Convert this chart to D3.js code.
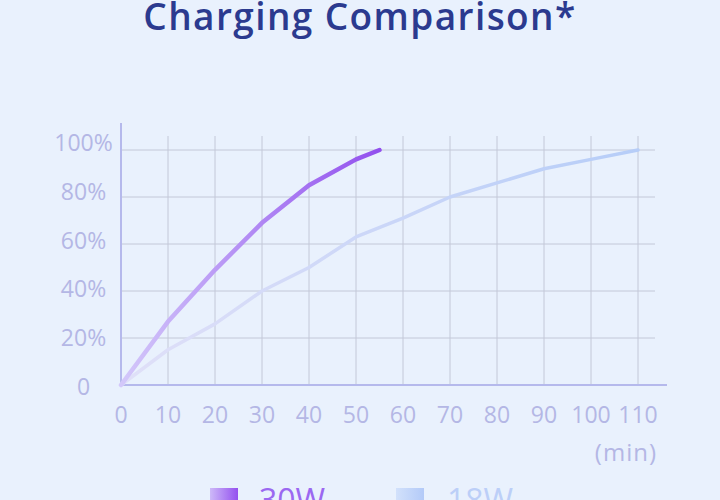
<!DOCTYPE html>
<html><head><meta charset="utf-8">
<script src="https://cdn.jsdelivr.net/npm/d3@7"></script>
<style>
html,body{margin:0;padding:0;background:#e9f1fd;}
svg{display:block;font-family:"Open Sans",sans-serif;}
</style></head><body>
<svg id="c" width="720" height="500"></svg>
<script>
const title = "Charging Comparison*";
const minutes30 = [0,10,20,30,40,50,55];
const values30 = [0,27,49,69,85,96,100];
const minutes18 = [0,10,20,30,40,50,60,70,80,90,100,110];
const values18 = [0,15,26,40,50,63,71,80,86,92,96,100];
const xTicks = [0,10,20,30,40,50,60,70,80,90,100,110];
const yTicks = [0,20,40,60,80,100];
const yTickLabels = ["0","20%","40%","60%","80%","100%"];
const seriesNames = ["30W","18W"];
const unitLabel = "(min)";

const svg = d3.select("#c");
const x = d3.scaleLinear().domain([0,110]).range([121,638]);
const y = d3.scaleLinear().domain([0,100]).range([385,150]);
const yLab = d3.scaleLinear().domain([0,100]).range([395,151]);

const defs = svg.append("defs");
function grad(id, c0, c1, x0, x1, units){
  const g = defs.append("linearGradient").attr("id",id);
  if(units){ g.attr("gradientUnits","userSpaceOnUse").attr("x1",x0).attr("x2",x1).attr("y1",0).attr("y2",0); }
  g.append("stop").attr("offset","0%").attr("stop-color",c0);
  g.append("stop").attr("offset","100%").attr("stop-color",c1);
}
grad("g30","#d3c8fa","#9250ee",x(0),x(55),true);
grad("g18","#e0e0f8","#b6cdf8",x(0),x(110),true);
grad("s30","#cdb9f8","#9450ef");
grad("s18","#d2e1fb","#b3caf8");

// title
svg.append("text").attr("x",360).attr("y",29.5).attr("text-anchor","middle")
  .attr("font-size",37).attr("font-weight",600).attr("letter-spacing",1.4)
  .attr("fill","#2b3a8f").text(title);

// grid
svg.append("g").selectAll("line").data(yTicks.filter(d=>d>0)).join("line")
  .attr("x1",x(0)).attr("x2",655).attr("y1",d=>y(d)).attr("y2",d=>y(d))
  .attr("stroke","#c3c8d8").attr("stroke-width",1);
svg.append("g").selectAll("line").data(xTicks.filter(d=>d>0)).join("line")
  .attr("x1",d=>x(d)).attr("x2",d=>x(d)).attr("y1",136).attr("y2",y(0))
  .attr("stroke","#c3c8d8").attr("stroke-width",1);

// axes
svg.append("line").attr("x1",x(0)).attr("x2",x(0)).attr("y1",123).attr("y2",y(0)+1)
  .attr("stroke","#b5b9ec").attr("stroke-width",2);
svg.append("line").attr("x1",x(0)-1).attr("x2",667).attr("y1",y(0)).attr("y2",y(0))
  .attr("stroke","#b5b9ec").attr("stroke-width",2);

const labColor = "#b4b7e5";
svg.append("g").selectAll("text").data(yTicks).join("text")
  .attr("x",83.5).attr("y",d=>yLab(d)).attr("text-anchor","middle")
  .attr("font-size",23).attr("fill",labColor).text((d,i)=>yTickLabels[i]);
svg.append("g").selectAll("text").data(xTicks).join("text")
  .attr("x",d=>x(d)).attr("y",423).attr("text-anchor","middle")
  .attr("font-size",23).attr("fill",labColor).text(d=>d);
svg.append("text").attr("x",657).attr("y",461).attr("text-anchor","end")
  .attr("font-size",24).attr("letter-spacing",1).attr("fill",labColor).text(unitLabel);

// lines
const line = d3.line().x(d=>x(d[0])).y(d=>y(d[1]));
svg.append("path").datum(minutes18.map((m,i)=>[m,values18[i]]))
  .attr("d",line).attr("fill","none").attr("stroke","url(#g18)")
  .attr("stroke-width",3.5).attr("stroke-linejoin","round").attr("stroke-linecap","round");
svg.append("path").datum(minutes30.map((m,i)=>[m,values30[i]]))
  .attr("d",line).attr("fill","none").attr("stroke","url(#g30)")
  .attr("stroke-width",4.5).attr("stroke-linejoin","round").attr("stroke-linecap","round");

// legend
const leg = [{name:seriesNames[0],sx:210,tx:259,fill:"url(#s30)",col:"#9b68f1"},
             {name:seriesNames[1],sx:396,tx:447,fill:"url(#s18)",col:"#bccff8"}];
leg.forEach(l=>{
  svg.append("rect").attr("x",l.sx).attr("y",488).attr("width",28).attr("height",28).attr("fill",l.fill);
  svg.append("text").attr("x",l.tx).attr("y",512).attr("font-size",32).attr("fill",l.col).text(l.name);
});
</script>
</body></html>
